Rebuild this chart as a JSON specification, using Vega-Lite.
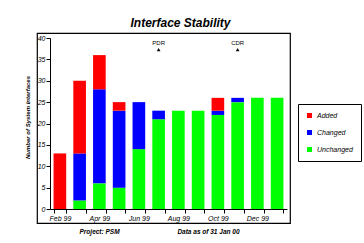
{
  "$schema": "https://vega.github.io/schema/vega-lite/v6.json",
  "width": 253,
  "height": 190,
  "autosize": "none",
  "padding": {"left": 37, "top": 33, "right": 74, "bottom": 20},
  "background": "white",
  "title": {
    "text": "Interface Stability",
    "fontSize": 12,
    "fontWeight": "bold",
    "fontStyle": "italic",
    "font": "Liberation Sans",
    "color": "black",
    "dx": 17,
    "offset": 3
  },
  "config": {
    "view": {"stroke": "black", "strokeWidth": 1.2},
    "font": "Liberation Sans",
    "axis": {"grid": false},
    "axisY": {
      "labelOverlap": false,
      "titleFontSize": 6,
      "titleFontWeight": "bold",
      "titleFontStyle": "italic",
      "titleColor": "black",
      "titleX": -20.5,
      "titleY": 84,
      "titleBaseline": "alphabetic",
      "titleAngle": -90,
      "labelFontSize": 7,
      "labelFontStyle": "italic",
      "labelColor": "black",
      "labelPadding": 1,
      "tickSize": 4,
      "tickColor": "black",
      "domainColor": "black",
      "offset": -13
    }
  },
  "data": {
    "values": [
      {"month": "Feb 99", "series": "Added", "value": 13},
      {"month": "Mar 99", "series": "Unchanged", "value": 2},
      {"month": "Mar 99", "series": "Changed", "value": 11},
      {"month": "Mar 99", "series": "Added", "value": 17},
      {"month": "Apr 99", "series": "Unchanged", "value": 6},
      {"month": "Apr 99", "series": "Changed", "value": 22},
      {"month": "Apr 99", "series": "Added", "value": 8},
      {"month": "May 99", "series": "Unchanged", "value": 5},
      {"month": "May 99", "series": "Changed", "value": 18},
      {"month": "May 99", "series": "Added", "value": 2},
      {"month": "Jun 99", "series": "Unchanged", "value": 14},
      {"month": "Jun 99", "series": "Changed", "value": 11},
      {"month": "Jul 99", "series": "Unchanged", "value": 21},
      {"month": "Jul 99", "series": "Changed", "value": 2},
      {"month": "Aug 99", "series": "Unchanged", "value": 23},
      {"month": "Sep 99", "series": "Unchanged", "value": 23},
      {"month": "Oct 99", "series": "Unchanged", "value": 22},
      {"month": "Oct 99", "series": "Changed", "value": 1},
      {"month": "Oct 99", "series": "Added", "value": 3},
      {"month": "Nov 99", "series": "Unchanged", "value": 25},
      {"month": "Nov 99", "series": "Changed", "value": 1},
      {"month": "Dec 99", "series": "Unchanged", "value": 26},
      {"month": "Jan 00", "series": "Unchanged", "value": 26}
    ]
  },
  "encoding": {
    "x": {
      "field": "month",
      "type": "ordinal",
      "sort": null,
      "scale": {
        "domain": ["Feb 99", "Mar 99", "Apr 99", "May 99", "Jun 99", "Jul 99", "Aug 99", "Sep 99", "Oct 99", "Nov 99", "Dec 99", "Jan 00"],
        "range": [13, 250],
        "paddingInner": 0.36,
        "paddingOuter": 0.18
      },
      "axis": {
        "tickBand": "extent",
        "labelExpr": "test(/^(Feb|Apr|Jun|Aug|Oct|Dec)/, datum.label) ? datum.label : ''",
        "labelAngle": 0,
        "labelFontSize": 7,
        "labelFontStyle": "italic",
        "labelColor": "black",
        "labelPadding": 1,
        "tickSize": 4,
        "tickColor": "black",
        "domainColor": "black",
        "offset": -14,
        "title": "Project: PSM\u00a0\u00a0\u00a0\u00a0\u00a0\u00a0\u00a0\u00a0\u00a0\u00a0\u00a0\u00a0\u00a0\u00a0\u00a0\u00a0\u00a0\u00a0\u00a0\u00a0\u00a0\u00a0\u00a0\u00a0\u00a0\u00a0\u00a0\u00a0\u00a0\u00a0\u00a0\u00a0Data as of 31 Jan 00",
        "titleFontSize": 6.5,
        "titleFontWeight": "bold",
        "titleFontStyle": "italic",
        "titleColor": "black",
        "titleAlign": "left",
        "titleX": 42,
        "titleY": 22,
        "titleBaseline": "middle"
      }
    }
  },
  "layer": [
    {
      "mark": {"type": "bar"},
      "encoding": {
        "y": {
          "field": "value",
          "type": "quantitative",
          "stack": "zero",
          "scale": {"domain": [0, 40], "range": [176, 5], "nice": false},
          "axis": {"values": [0, 5, 10, 15, 20, 25, 30, 35, 40], "title": "Number of System Interfaces"}
        },
        "color": {
          "field": "series",
          "type": "nominal",
          "scale": {"domain": ["Added", "Changed", "Unchanged"], "range": ["#ff0000", "#0000ff", "#00ff00"]},
          "legend": {
            "orient": "none",
            "legendX": 261,
            "legendY": 71,
            "title": null,
            "strokeColor": "black",
            "fillColor": "white",
            "padding": 8,
            "rowPadding": 9,
            "symbolType": "square",
            "symbolSize": 25,
            "symbolStrokeWidth": 0,
            "labelFontSize": 7,
            "labelFontStyle": "italic",
            "labelColor": "black",
            "labelOffset": 4
          }
        },
        "order": {"field": "series", "sort": "descending"}
      }
    },
    {
      "data": {"values": [{"month": "Jul 99", "label": "PDR"}, {"month": "Nov 99", "label": "CDR"}]},
      "mark": {"type": "text", "fontSize": 6, "color": "black", "baseline": "middle"},
      "encoding": {
        "y": {"datum": 38.8, "type": "quantitative", "axis": {"values": [0, 5, 10, 15, 20, 25, 30, 35, 40], "title": "Number of System Interfaces"}},
        "text": {"field": "label"}
      }
    },
    {
      "data": {"values": [{"month": "Jul 99", "label": "PDR"}, {"month": "Nov 99", "label": "CDR"}]},
      "mark": {"type": "point", "shape": "triangle-up", "size": 14, "filled": true, "color": "black", "opacity": 1},
      "encoding": {
        "y": {"datum": 37.3, "type": "quantitative", "axis": {"values": [0, 5, 10, 15, 20, 25, 30, 35, 40], "title": "Number of System Interfaces"}}
      }
    }
  ]
}
